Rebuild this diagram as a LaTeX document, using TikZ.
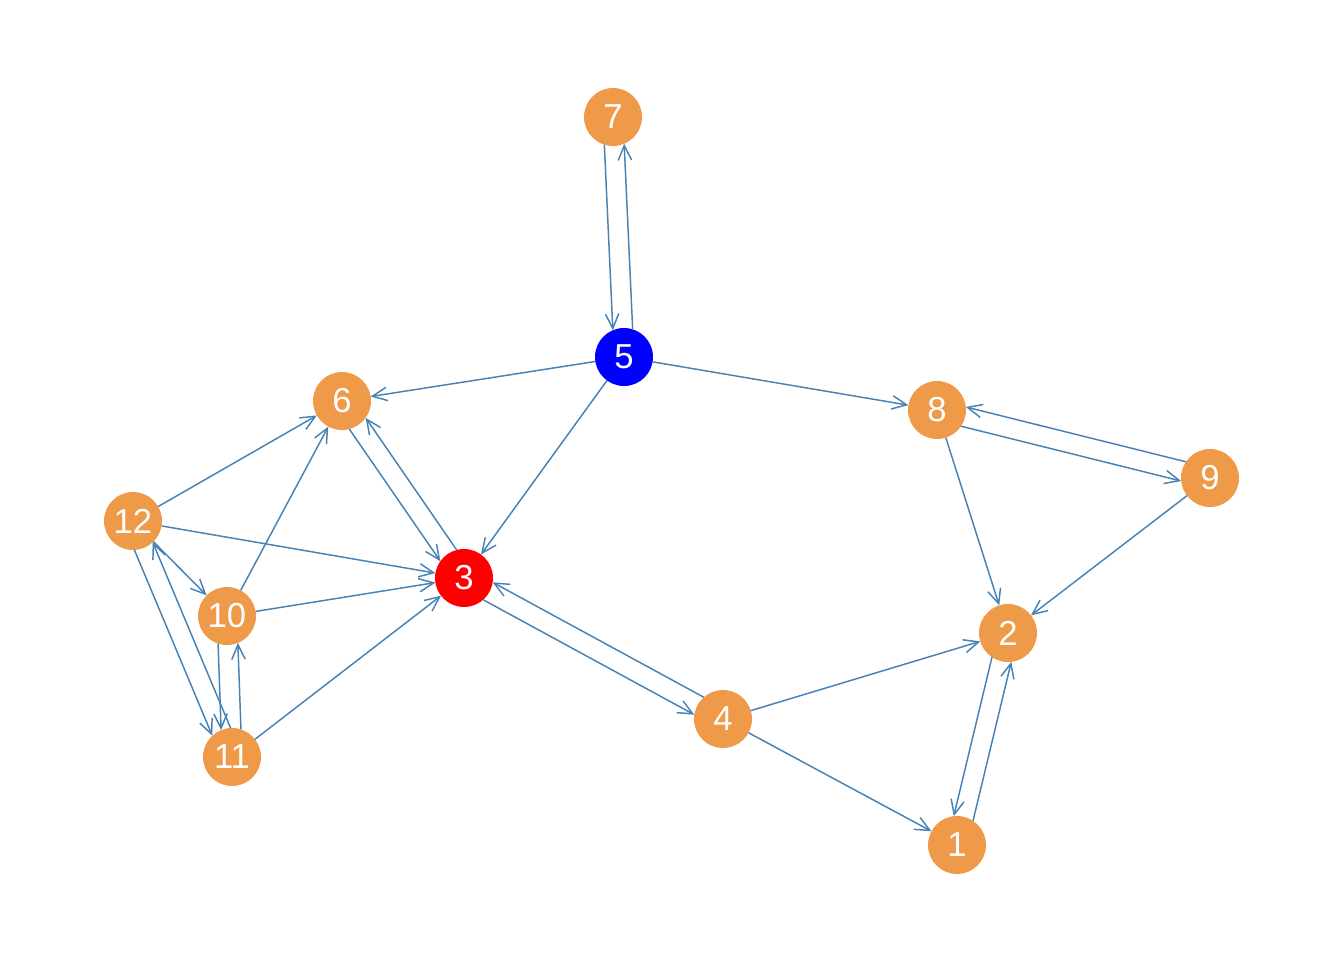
\documentclass[tikz,border=0pt]{standalone}
\usepackage{fontspec}
\setmainfont{Liberation Sans}
\usetikzlibrary{arrows.meta,calc}
\definecolor{edgecol}{HTML}{4682B4}
\definecolor{nodeor}{HTML}{EE9A49}
\begin{document}
\begin{tikzpicture}[x=0.75pt,y=-0.75pt,
  vtx/.style={circle,fill=nodeor,minimum size=43.5pt,inner sep=0pt,outer sep=0pt,text=white,font=\fontsize{26}{26}\selectfont},
  e/.style={draw=edgecol,line width=1.1pt,-{Straight Barb[length=11pt,width=10pt,line width=1.1pt]}}]
\useasboundingbox (0,0) rectangle (1344,960);
\node[vtx] (n7) at (613,117) {7};
\node[vtx,fill=blue] (n5) at (624,357) {5};
\node[vtx] (n6) at (342,401) {6};
\node[vtx] (n8) at (937,410) {8};
\node[vtx] (n9) at (1210,478) {9};
\node[vtx] (n12) at (133,521) {12};
\node[vtx,fill=red] (n3) at (464,578) {3};
\node[vtx] (n10) at (227,616) {10};
\node[vtx] (n2) at (1008,633) {2};
\node[vtx] (n4) at (723,719) {4};
\node[vtx] (n11) at (232,757) {11};
\node[vtx] (n1) at (957,845) {1};
% mutual edges
\newcommand{\mutual}[2]{%
  \draw[e] ($(#1)!21.75pt!-20:(#2)$) -- ($(#2)!21.75pt!20:(#1)$);
  \draw[e] ($(#2)!21.75pt!-20:(#1)$) -- ($(#1)!21.75pt!20:(#2)$);}
\mutual{n7}{n5}
\mutual{n6}{n3}
\mutual{n8}{n9}
\mutual{n12}{n11}
\mutual{n10}{n11}
\mutual{n3}{n4}
\mutual{n2}{n1}
% single edges
\draw[e] (n5) -- (n6);
\draw[e] (n5) -- (n8);
\draw[e] (n5) -- (n3);
\draw[e] (n8) -- (n2);
\draw[e] (n9) -- (n2);
\draw[e] (n12) -- (n6);
\draw[e] (n12) -- (n3);
\draw[e] (n12) -- (n10);
\draw[e] (n10) -- (n6);
\draw[e] (n10) -- (n3);
\draw[e] (n11) -- (n3);
\draw[e] (n4) -- (n2);
\draw[e] (n4) -- (n1);
\end{tikzpicture}
\end{document}
